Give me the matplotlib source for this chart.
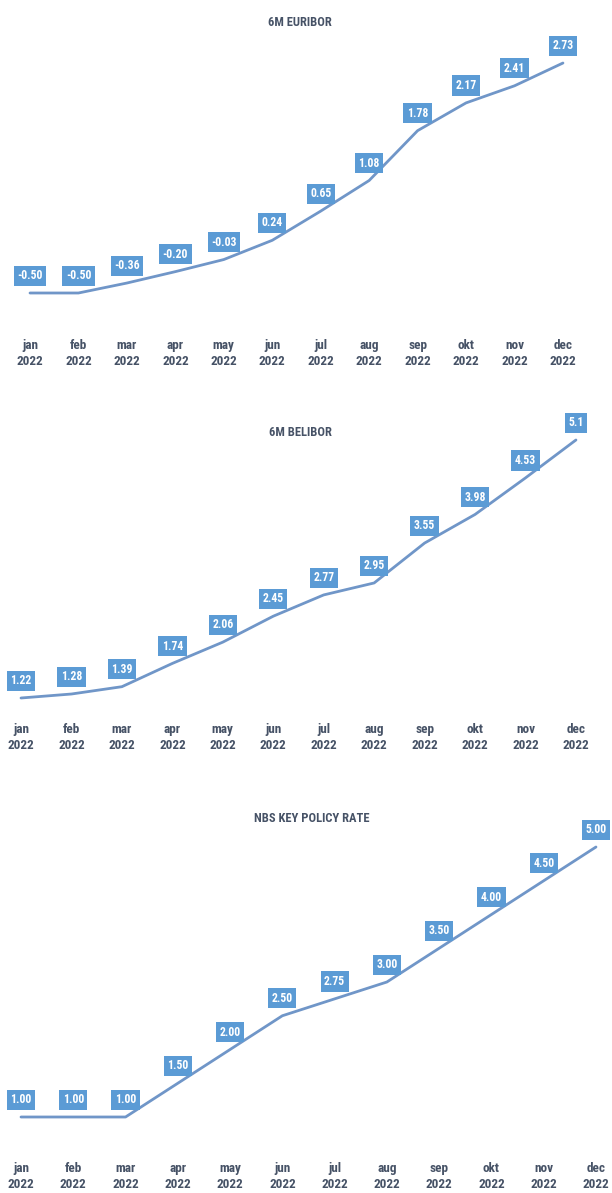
import matplotlib
matplotlib.use('Agg')
import matplotlib.pyplot as plt

months = ['jan', 'feb', 'mar', 'apr', 'may', 'jun', 'jul', 'aug', 'sep', 'okt', 'nov', 'dec']
year = '2022'
euribor = [-0.50, -0.50, -0.36, -0.20, -0.03, 0.24, 0.65, 1.08, 1.78, 2.17, 2.41, 2.73]
euribor_lbl = ['-0.50', '-0.50', '-0.36', '-0.20', '-0.03', '0.24', '0.65', '1.08', '1.78', '2.17', '2.41', '2.73']
belibor = [1.22, 1.28, 1.39, 1.74, 2.06, 2.45, 2.77, 2.95, 3.55, 3.98, 4.53, 5.1]
belibor_lbl = ['1.22', '1.28', '1.39', '1.74', '2.06', '2.45', '2.77', '2.95', '3.55', '3.98', '4.53', '5.1']
nbs = [1.00, 1.00, 1.00, 1.50, 2.00, 2.50, 2.75, 3.00, 3.50, 4.00, 4.50, 5.00]
nbs_lbl = ['1.00', '1.00', '1.00', '1.50', '2.00', '2.50', '2.75', '3.00', '3.50', '4.00', '4.50', '5.00']

FONT = ['Liberation Sans Narrow', 'DejaVu Sans Condensed', 'Roboto Condensed', 'DejaVu Sans']
plt.rcParams['font.family'] = FONT
plt.rcParams['font.weight'] = 'bold'
plt.rcParams['font.stretch'] = 'condensed'

W, H = 612, 1193
LINE_C = '#7096c8'
BOX_C = '#5b9bd5'
TXT_C = '#465266'

fig = plt.figure(figsize=(W / 100, H / 100), dpi=100)

# (title, values, labels, title x/y px, panel top/bottom px, first x px, step px, ref value, ref y px, px per unit)
panels = [
    ('6M EURIBOR', euribor, euribor_lbl, 300, 22, 0, 338, 30, 48.45, -0.50, 293, 71.2),
    ('6M BELIBOR', belibor, belibor_lbl, 300, 432, 410, 722, 21, 50.45, 1.22, 698, 66.5),
    ('NBS KEY POLICY RATE', nbs, nbs_lbl, 312, 819, 800, 1161, 21, 52.27, 1.00, 1117, 67.5),
]

for title, vals, lbls, tx, ty, top, bot, x0, dx, vref, yref, sc in panels:
    ax = fig.add_axes([0, 1 - bot / H, 1, (bot - top) / H])
    ax.set_xlim(-x0 / dx, (W - x0) / dx)
    ax.set_ylim(vref - (bot - yref) / sc, vref + (yref - top) / sc)
    x = list(range(len(vals)))
    ax.plot(x, vals, color=LINE_C, lw=2, solid_capstyle='round', clip_on=False)
    for xi, v, s in zip(x, vals, lbls):
        ax.annotate(s, (xi, v), xytext=(0, 12.5), textcoords='offset points',
                    ha='center', va='center', color='white', fontsize=8.5,
                    fontweight='bold', annotation_clip=False,
                    bbox=dict(boxstyle='square,pad=0.3', fc=BOX_C, ec='none'))
    ax.set_xticks(x)
    ax.set_xticklabels([m + '\n' + year for m in months], color=TXT_C,
                       fontsize=9.5, fontweight='bold', linespacing=1.25)
    ax.tick_params(axis='x', length=0, pad=1)
    ax.set_yticks([])
    for sp in ax.spines.values():
        sp.set_visible(False)
    ax.patch.set_alpha(0)
    fig.text(tx / W, 1 - ty / H, title, ha='center', va='center',
             color=TXT_C, fontsize=9, fontweight='bold')

fig.savefig('out.png', dpi=100)
